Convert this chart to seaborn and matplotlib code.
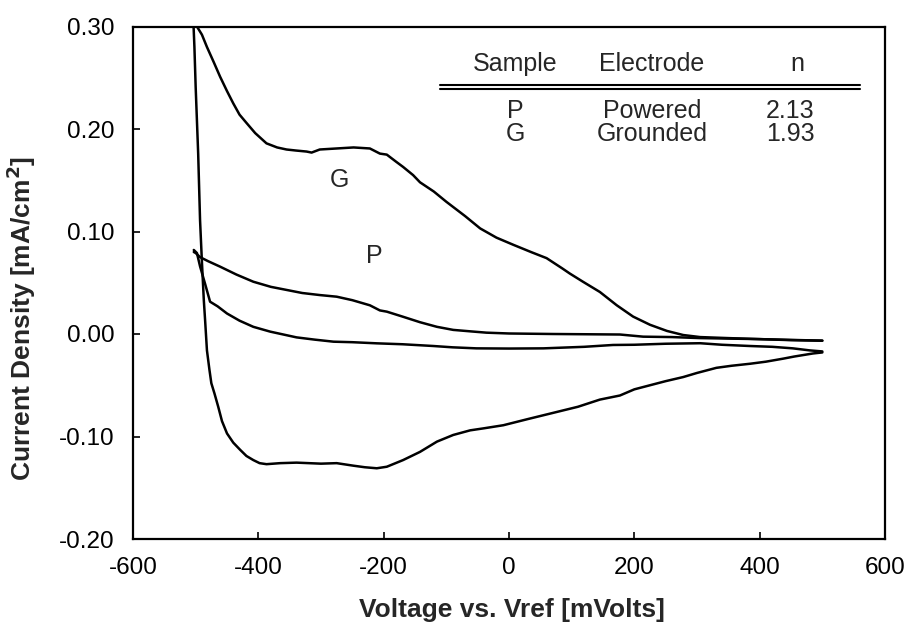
import numpy as np
import pandas as pd
import matplotlib
matplotlib.use("Agg")
import matplotlib.pyplot as plt
import seaborn as sns

# ---- data ----
# Sample G (grounded electrode): anodic sweep
g_anodic_v = [-500, -498, -490, -482, -471, -461, -450, -440, -430, -419, -405, -387,
              -370, -355, -340, -323, -315, -302, -275, -248, -222, -206, -195, -180,
              -169, -153, -142, -120, -100, -70, -46, -20, 7, 35, 60, 85, 97, 118, 145,
              172, 198, 225, 252, 278, 305, 350, 400, 450, 500]
g_anodic_j = [0.310, 0.300, 0.292, 0.280, 0.265, 0.251, 0.237, 0.225, 0.214, 0.206, 0.196, 0.186,
              0.182, 0.180, 0.179, 0.178, 0.177, 0.180, 0.181, 0.182, 0.181, 0.176, 0.175, 0.168,
              0.163, 0.155, 0.148, 0.139, 0.129, 0.115, 0.103, 0.094, 0.087, 0.080, 0.074, 0.064, 0.059, 0.051, 0.041,
              0.028, 0.017, 0.009, 0.003, -0.001, -0.003, -0.004, -0.005, -0.006, -0.0065]
# Sample G: cathodic sweep
g_cathodic_v = [500, 485, 455, 438, 410, 385, 355, 331, 300, 278, 250, 225, 200, 177, 145,
                110, 70, 30, -9, -40, -62, -89, -115, -142, -169, -195, -211, -230, -248,
                -275, -300, -339, -365, -387, -398, -408, -419, -429, -440, -450, -458,
                -464, -470, -475, -478, -482, -485, -487, -490, -493, -496, -500, -502, -504]
g_cathodic_j = [-0.018, -0.019, -0.022, -0.024, -0.027, -0.029, -0.031, -0.033, -0.038, -0.042, -0.046, -0.050, -0.054, -0.060, -0.064,
                -0.071, -0.077, -0.083, -0.089, -0.092, -0.094, -0.0985, -0.105, -0.115, -0.123, -0.1295, -0.131, -0.130, -0.1285,
                -0.126, -0.1265, -0.1255, -0.126, -0.127, -0.126, -0.123, -0.119, -0.113, -0.106, -0.097, -0.085,
                -0.071, -0.058, -0.048, -0.035, -0.016, 0.014, 0.033, 0.070, 0.111, 0.176, 0.241, 0.280, 0.310]

# Sample P (powered electrode): anodic sweep
p_anodic_v = [-503, -500, -493, -480, -461, -435, -408, -380, -355, -330, -302, -275, -250,
              -222, -206, -195, -170, -142, -115, -89, -60, -36, 0, 70, 177, 214, 260, 305, 400, 500]
p_anodic_j = [0.080, 0.079, 0.075, 0.071, 0.0657, 0.058, 0.051, 0.046, 0.043, 0.040, 0.038, 0.0364, 0.033,
              0.028, 0.023, 0.0218, 0.017, 0.0115, 0.007, 0.004, 0.0025, 0.0013, 0.0005, 0.0, -0.0005, -0.0026,
              -0.003, -0.004, -0.005, -0.0065]
# Sample P: cathodic sweep
p_cathodic_v = [500, 480, 453, 420, 384, 340, 305, 250, 200, 166, 120, 55, 0, -52, -90, -121, -170,
                -211, -250, -280, -310, -339, -360, -381, -408, -430, -450, -465, -477, -485, -493, -498, -503]
p_cathodic_j = [-0.017, -0.016, -0.014, -0.0125, -0.0117, -0.0105, -0.009, -0.0095, -0.0105, -0.0107, -0.0125,
                -0.014, -0.0142, -0.014, -0.013, -0.0117, -0.010, -0.0091, -0.008, -0.0075, -0.0055, -0.0033,
                -0.0005, 0.0023, 0.007, 0.013, 0.020, 0.027, 0.0315, 0.049, 0.066, 0.079, 0.082]

table_header = ["Sample", "Electrode", "n"]
table_samples = ["P", "G"]
table_electrodes = ["Powered", "Grounded"]
table_n = ["2.13", "1.93"]

x_ticks = [-600, -400, -200, 0, 200, 400, 600]
y_ticks = [-0.20, -0.10, 0.00, 0.10, 0.20, 0.30]

segments = [("G", "anodic", g_anodic_v, g_anodic_j),
            ("G", "cathodic", g_cathodic_v, g_cathodic_j),
            ("P", "anodic", p_anodic_v, p_anodic_j),
            ("P", "cathodic", p_cathodic_v, p_cathodic_j)]
df = pd.concat([
    pd.DataFrame({"v": v, "j": j, "seg": f"{s}-{d}"}) for s, d, v, j in segments
], ignore_index=True)

sns.set_theme(style="white")
plt.rcParams["font.family"] = ["Liberation Sans", "DejaVu Sans"]

fig, ax = plt.subplots(figsize=(9.12, 6.30), dpi=100)
fig.subplots_adjust(left=133/912, right=885/912, top=1-26.5/630, bottom=1-539/630)

sns.lineplot(data=df, x="v", y="j", units="seg", estimator=None, sort=False,
             color="black", linewidth=1.8, ax=ax, legend=False)

ax.set_xlim(-600, 600)
ax.set_ylim(-0.20, 0.30)
ax.set_xticks(x_ticks)
ax.set_xticklabels([f"{t:d}" for t in x_ticks])
ax.set_yticks(y_ticks)
ax.set_yticklabels([f"{t:.2f}" for t in y_ticks])
ax.tick_params(axis="both", direction="in", length=5, width=1.2, color="black",
               labelsize=17.5, pad=13, labelcolor="black", bottom=True, left=True)
for s in ax.spines.values():
    s.set_visible(True)
    s.set_color("black")
    s.set_linewidth(1.6)

ax.set_xlabel("Voltage vs. Vref [mVolts]", fontsize=19, fontweight="bold", va="center")
ax.set_ylabel("Current Density [mA/cm$^{\\mathbf{2}}$]", fontsize=19, fontweight="bold", va="center")
ax.xaxis.set_label_coords(0.504, -0.139)
ax.yaxis.set_label_coords(-0.148, 0.43)

# curve labels
ax.text(-270, 0.150, "G", fontsize=18, ha="center", va="center")
ax.text(-215, 0.076, "P", fontsize=18, ha="center", va="center")

# inline table (pixel positions converted to data coordinates)
def px2data(px, py):
    v = -600 + (px - 133) / 752 * 1200
    j = -0.20 + (539 - py) / 512.5 * 0.50
    return v, j

cols_px = [515, 652, 797]
header_py = 64
rows_py = [111, 134]
for c, h in zip(cols_px, table_header):
    ax.text(*px2data(c, header_py), h, fontsize=18, ha="center", va="center")
for r, (s, e, n) in enumerate(zip(table_samples, table_electrodes, table_n)):
    for c, t in zip([515, 652, 790], [s, e, n]):
        ax.text(*px2data(c, rows_py[r]), t, fontsize=18, ha="center", va="center")
x0, _ = px2data(440, 0)
x1, _ = px2data(860, 0)
_, yl1 = px2data(0, 85)
_, yl2 = px2data(0, 88.5)
ax.plot([x0, x1], [yl1, yl1], color="black", linewidth=1.5)
ax.plot([x0, x1], [yl2, yl2], color="black", linewidth=1.5)

fig.savefig("out.png", dpi=100)
